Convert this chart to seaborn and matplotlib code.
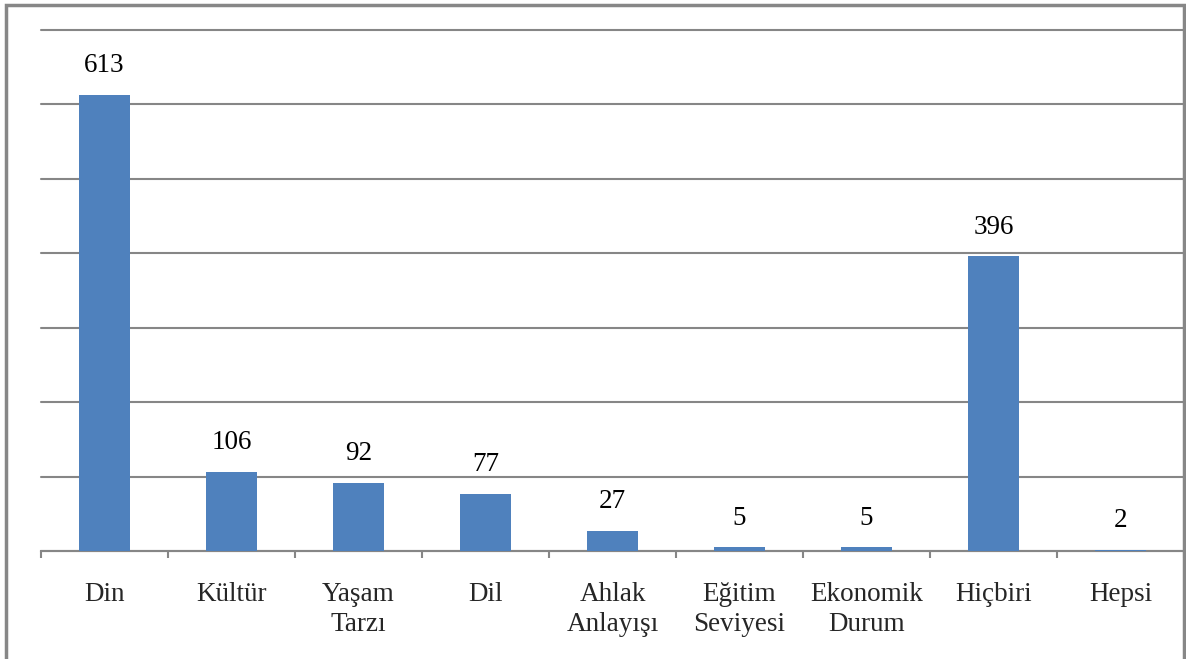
import matplotlib
matplotlib.use("Agg")
import matplotlib.pyplot as plt
import seaborn as sns
import pandas as pd
from matplotlib.patches import Rectangle

categories = ["Din", "Kültür", "Yaşam\nTarzı", "Dil", "Ahlak\nAnlayışı",
              "Eğitim\nSeviyesi", "Ekonomik\nDurum", "Hiçbiri", "Hepsi"]
counts = [613, 106, 92, 77, 27, 5, 5, 396, 2]

df = pd.DataFrame({"kategori": categories, "sayi": counts})

sns.set_style("white")
plt.rcParams["font.family"] = ["Liberation Serif", "DejaVu Serif"]

fig = plt.figure(figsize=(11.86, 6.59), dpi=100)
ax = fig.add_axes([41/1186, 1 - 551/659, (1184 - 41)/1186, (551 - 30)/659])

sns.barplot(x="kategori", y="sayi", data=df, color="#4F81BD", width=0.4,
            saturation=1, linewidth=0, ax=ax, zorder=3)
ax.bar_label(ax.containers[0], fontsize=19.5, padding=12, color="black")

ax.set_ylim(0, 700)
ax.set_xlim(-0.5, 8.5)
ax.set_yticks(range(0, 701, 100))
ax.yaxis.grid(True, color="#868686", linewidth=1.5)
for gl in ax.get_ygridlines():
    gl.set_clip_on(False)
ax.set_axisbelow(True)
ax.tick_params(axis="y", left=False, labelleft=False)
ax.set_xlabel("")
ax.set_ylabel("")

# ticks between categories like Excel
ax.set_xticks([i - 0.5 for i in range(10)], minor=True)
ax.tick_params(axis="x", which="minor", bottom=True, length=5, width=1.5,
               color="#868686", direction="out")
ax.tick_params(axis="x", which="major", bottom=False, length=0, pad=22, labelsize=19.5)
for lbl in ax.get_xticklabels():
    lbl.set_linespacing(1.28)

for side in ["left", "right", "top"]:
    ax.spines[side].set_visible(False)
ax.spines["bottom"].set_color("#868686")
ax.spines["bottom"].set_linewidth(1.5)

# outer chart frame
fig.patches.append(Rectangle((6/1186, -0.1), (1184 - 6)/1186, 1.1 - 5/659,
                             transform=fig.transFigure, fill=False,
                             edgecolor="#878787", linewidth=2.5))

fig.savefig("out.png", dpi=100)
